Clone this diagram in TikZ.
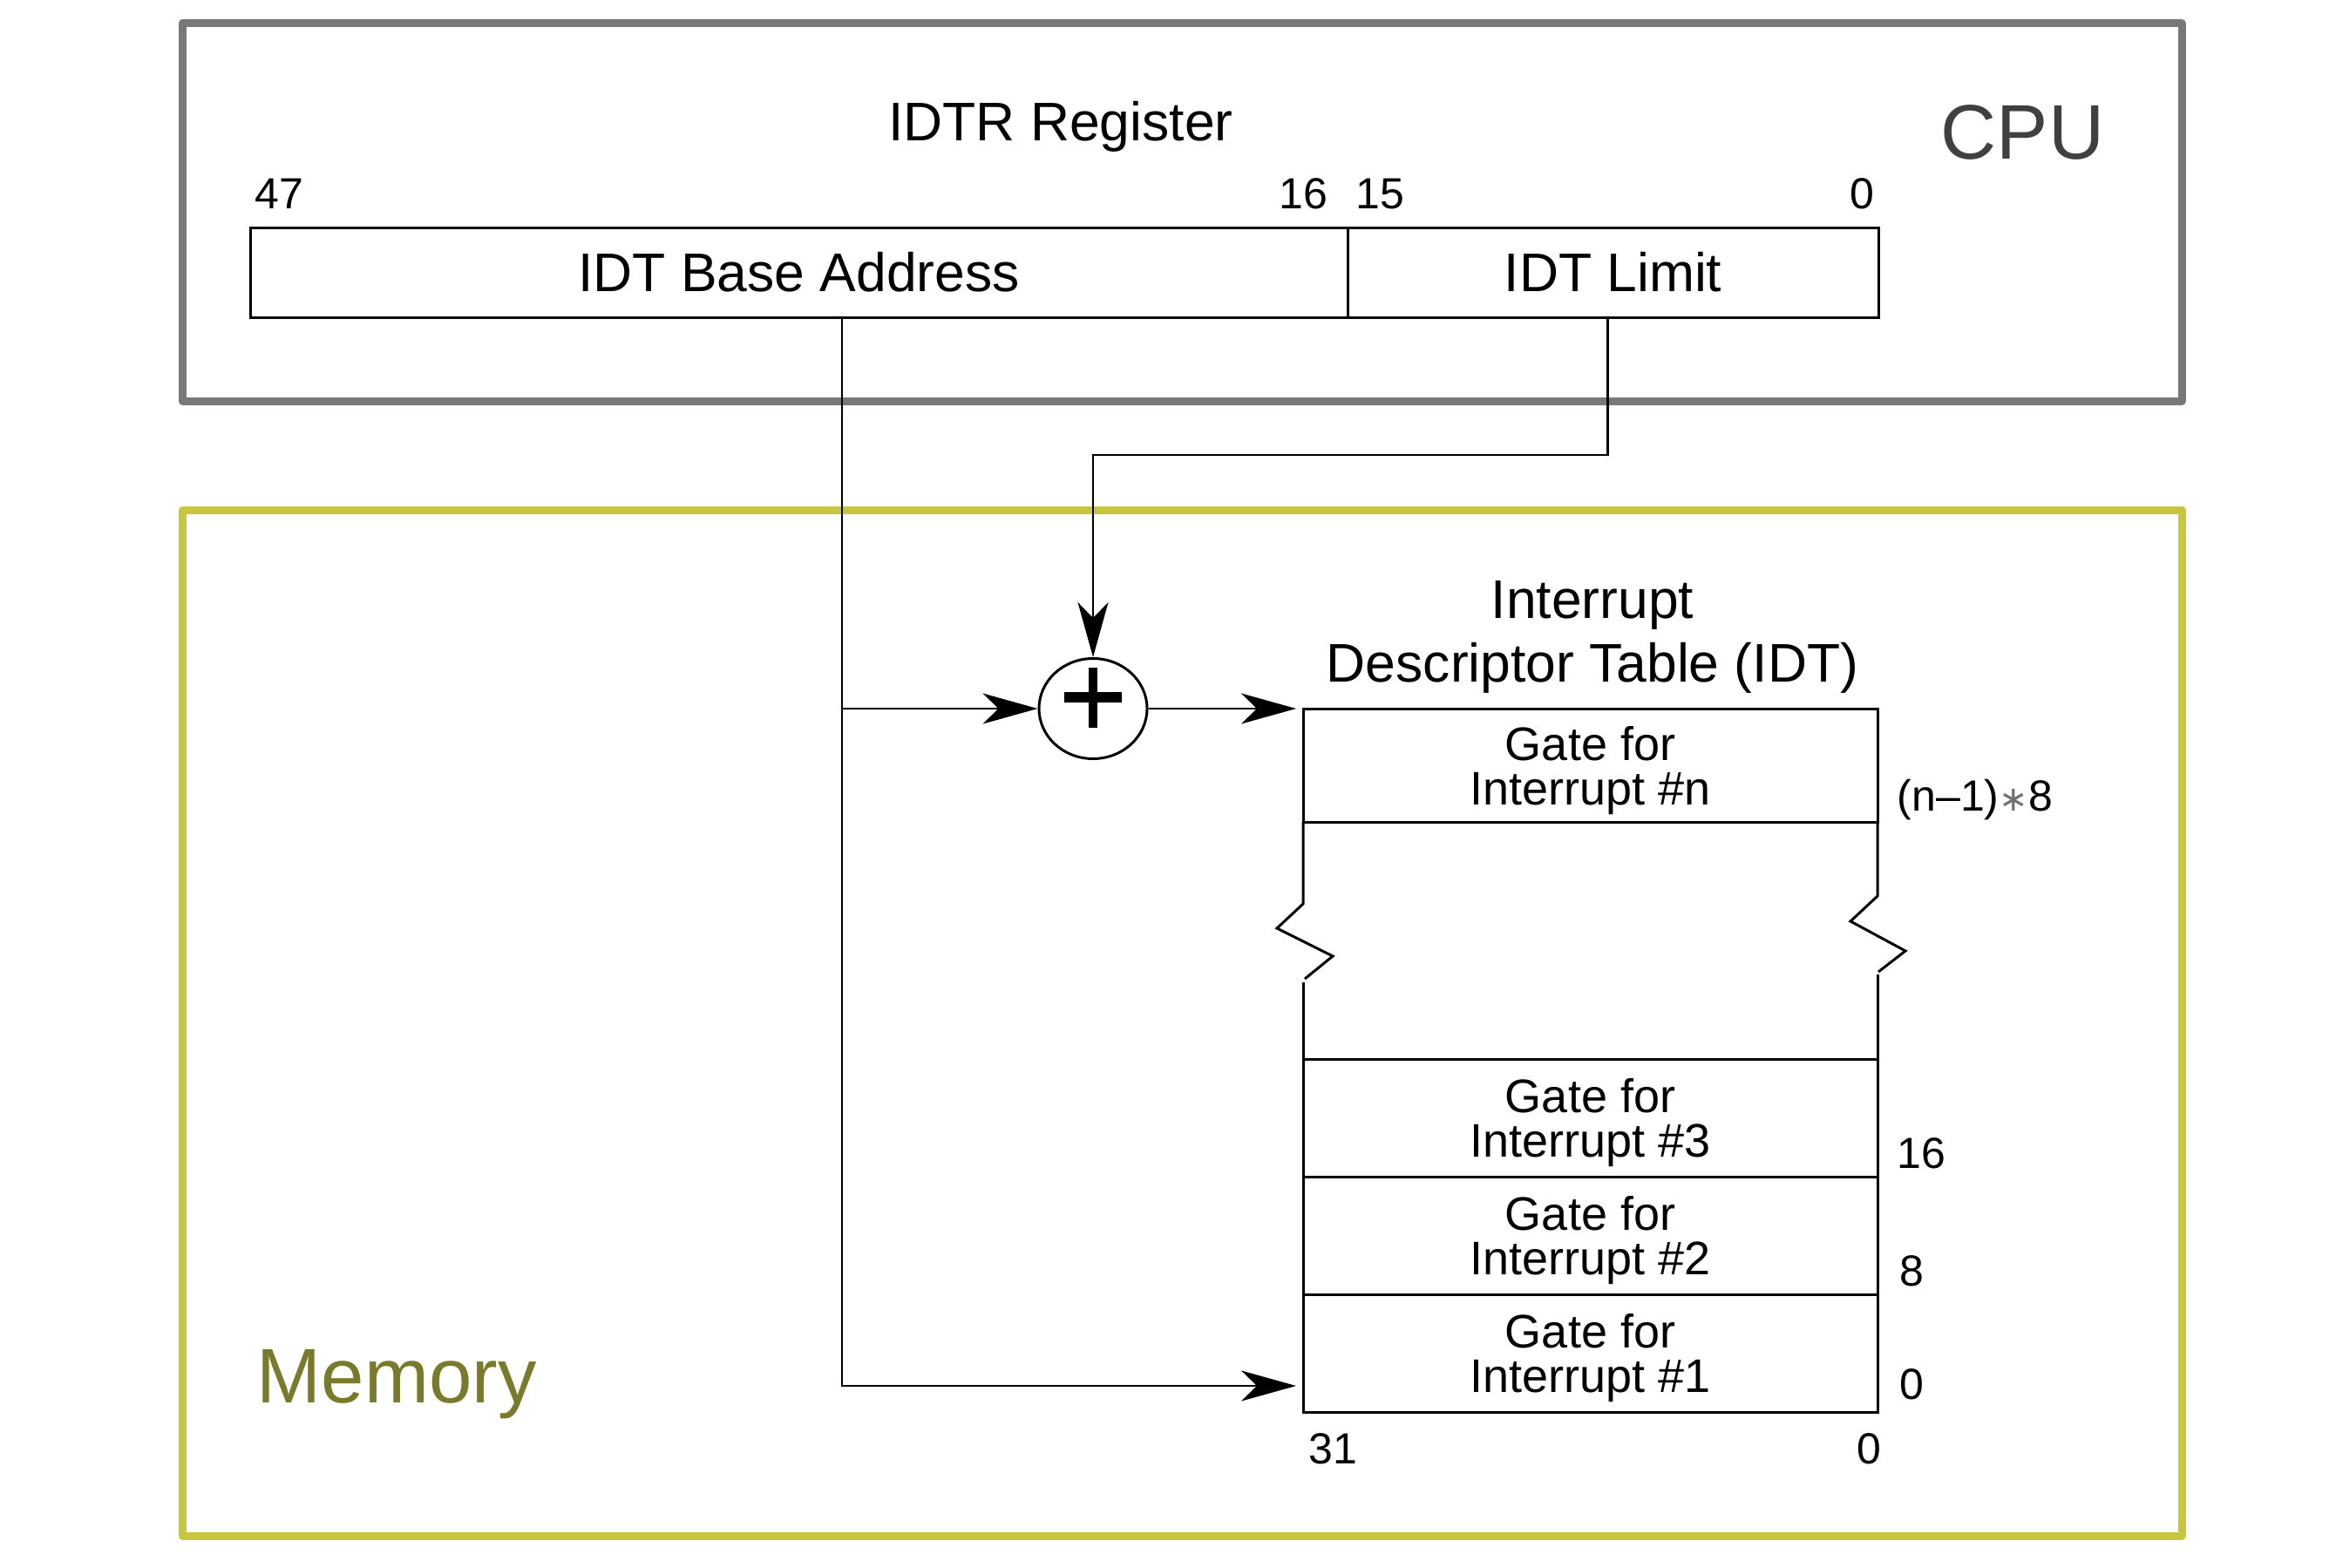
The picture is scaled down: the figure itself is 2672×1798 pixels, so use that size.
\documentclass[tikz,border=0pt]{standalone}
\usepackage{fontspec}
\setmainfont{Liberation Sans}
\newfontfamily\symfont{DejaVu Sans}
\usetikzlibrary{arrows.meta,shapes.geometric,calc}
\definecolor{cpugray}{HTML}{787878}
\definecolor{cputext}{HTML}{404040}
\definecolor{memyellow}{HTML}{C8C63A}
\definecolor{memtext}{HTML}{7A7A2C}
\begin{document}
\begin{tikzpicture}[x=0.25pt,y=-0.25pt,
  frame/.style={line width=2.25pt, line join=round},
  cell/.style={draw, line width=0.75pt, inner sep=0pt, outer sep=0pt, anchor=north west, align=center},
  conn/.style={line width=0.55pt},
  arr/.style={-{Stealth[length=15.75pt,width=8.75pt,inset=4.5pt]}},
  big/.style={font=\fontsize{15.6}{18.25}\selectfont},
  gate/.style={font=\fontsize{13.5}{12.75}\selectfont, text depth=-1pt},
  num/.style={font=\fontsize{12.5}{14}\selectfont, inner sep=0pt},
  title/.style={font=\fontsize{22.2}{26}\selectfont, inner sep=0pt},
  brk/.style={line width=0.75pt}
]
\useasboundingbox (0,0) rectangle (2672,1798);
% frames
\draw[frame, cpugray] (209,27) rectangle (2503,460);
\draw[frame, memyellow] (209,585) rectangle (2503,1762);
% IDTR register
\node[anchor=base, inner sep=0pt, big] (idtrlbl) at (1217,162) {IDTR Register};
\node[num, anchor=base west] (b47) at (292,239) {47};
\node[num, anchor=base east] (b16) at (1524,239) {16};
\node[num, anchor=base west] (b15) at (1555,239) {15};
\node[num, anchor=base east] (b0) at (2151,239) {0};
\node[cell, big, minimum width=314.75pt, minimum height=25.75pt] (base) at (287,261) {IDT Base Address};
\node[cell, big, minimum width=152.25pt, minimum height=25.75pt] (limit) at (1546,261) {IDT Limit};
\node[title, cputext, anchor=base west] (cpu) at (2226,182) {CPU};
\node[title, memtext, anchor=base west] (mem) at (294,1609) {Memory};
% IDT
\node[anchor=base, inner sep=0pt, big] (idt1) at (1827,709) {Interrupt};
\node[anchor=base, inner sep=0pt, big] (idt2) at (1827,782) {Descriptor Table (IDT)};
\node[cell, gate, minimum width=164.75pt, minimum height=32.5pt] (rown) at (1495,813) {Gate for\\Interrupt \#n};
\node[cell, gate, minimum width=164.75pt, minimum height=33.75pt] (row3) at (1495,1215) {Gate for\\Interrupt \#3};
\node[cell, gate, minimum width=164.75pt, minimum height=33.75pt] (row2) at (1495,1350) {Gate for\\Interrupt \#2};
\node[cell, gate, minimum width=164.75pt, minimum height=33.75pt] (row1) at (1495,1485) {Gate for\\Interrupt \#1};
% break
\draw[brk] (rown.south west) -- (1495,1037) -- (1465,1065) -- (1529,1097) -- (1497,1123);
\draw[brk] (1495,1127) -- (row3.north west);
\draw[brk] (rown.south east) -- (2154,1028) -- (2123,1057) -- (2186,1091) -- (2155,1115);
\draw[brk] (2154,1118) -- (row3.north east);
% offsets
\node[num, anchor=base west] (onm) at (2176,930) {(n–1){\color{black!55}\symfont\fontsize{10}{10}\selectfont ∗}8};
\node[num, anchor=base west] (o16) at (2176,1340) {16};
\node[num, anchor=base west] (o8) at (2179,1475) {8};
\node[num, anchor=base west] (o0) at (2179,1605) {0};
\node[num, anchor=base west] (c31) at (1501,1679) {31};
\node[num, anchor=base east] (c0) at (2159,1679) {0};
% adder
\node[draw, ellipse, line width=0.75pt, minimum width=31pt, minimum height=28.75pt, inner sep=0pt] (plus) at (1254,813) {};
\draw[line width=3.1pt] ($(plus.center)+(-33,-13)$) -- ($(plus.center)+(33,-13)$);
\draw[line width=2.7pt] ($(plus.center)+(0,-47)$) -- ($(plus.center)+(0,22)$);
% connectors
\coordinate (bstart) at (966,364);
\coordinate (r1in) at (1495,1590);
\coordinate (lbend) at (1254,522);
\draw[conn,arr] (bstart) |- (plus.west);
\draw[conn,arr,shorten >=2pt] (bstart) |- (r1in);
\draw[conn,arr] ($(limit.south)+(-6,0)$) |- (lbend) -- (plus.north);
\draw[conn,arr,shorten >=2pt] (plus.east) -- (rown.north west);
\end{tikzpicture}
\end{document}
